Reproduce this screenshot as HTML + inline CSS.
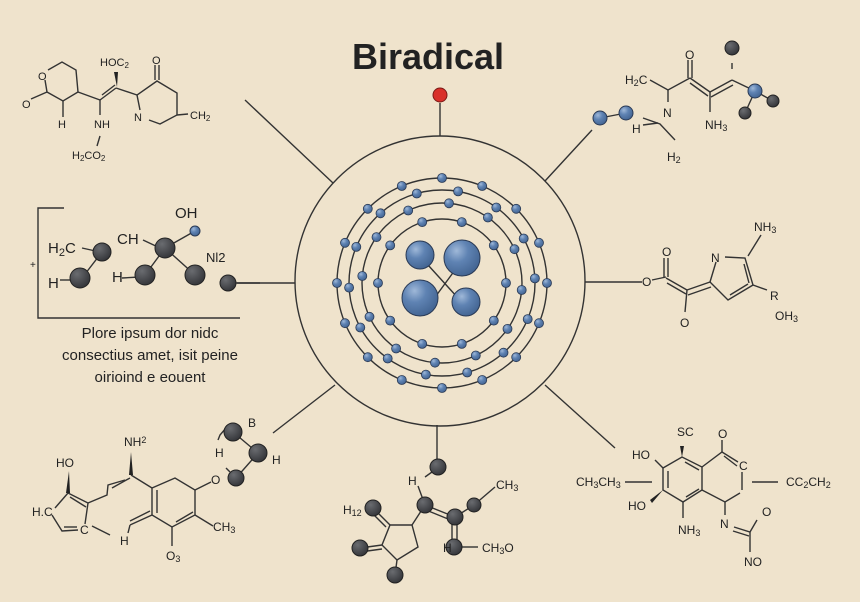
<!DOCTYPE html>
<html><head><meta charset="utf-8"><style>
html,body{margin:0;padding:0;background:#efe3cc;}
svg{display:block}
text{font-family:"Liberation Sans",sans-serif;fill:#222;}
</style></head><body>
<svg id="s" width="860" height="602" viewBox="0 0 860 602" xmlns="http://www.w3.org/2000/svg">
<defs>
<radialGradient id="bl" cx="0.35" cy="0.3" r="0.8"><stop offset="0" stop-color="#9fb8d8"/><stop offset="0.4" stop-color="#5f83b3"/><stop offset="1" stop-color="#3e5f8c"/></radialGradient>
<radialGradient id="dk" cx="0.35" cy="0.3" r="0.8"><stop offset="0" stop-color="#6a6c70"/><stop offset="1" stop-color="#2f3034"/></radialGradient>
</defs>
<rect width="860" height="602" fill="#efe3cc"/>
<text x="428" y="69" font-size="36" font-weight="bold" text-anchor="middle" fill="#111">Biradical</text>

<g stroke="#333" stroke-width="1.4" fill="none">
<!-- spokes -->
<line x1="440" y1="103" x2="440" y2="136"/>
<line x1="245" y1="100" x2="333" y2="183"/>
<line x1="592" y1="130" x2="545" y2="181"/>
<line x1="585" y1="282" x2="642" y2="282"/>
<line x1="237" y1="283" x2="295" y2="283"/>
<line x1="335" y1="385" x2="273" y2="433"/>
<line x1="437" y1="425" x2="437" y2="460"/>
<line x1="545" y1="385" x2="615" y2="448"/>
<circle cx="440" cy="281" r="145"/>
<!-- orbits -->
<circle cx="442" cy="283" r="105"/>
<circle cx="442" cy="283" r="93"/>
<circle cx="442" cy="283" r="80"/>
<circle cx="442" cy="283" r="64"/>
<line x1="428" y1="265" x2="458" y2="298"/>
<line x1="433" y1="300" x2="455" y2="270"/>
</g>
<circle cx="440" cy="95" r="7" fill="#d9302a" stroke="#7a1a16"/>
<g id="dots"></g>
<g stroke="#2a3a55" stroke-width="1">
<circle cx="420" cy="255" r="14" fill="url(#bl)"/>
<circle cx="462" cy="258" r="18" fill="url(#bl)"/>
<circle cx="420" cy="298" r="18" fill="url(#bl)"/>
<circle cx="466" cy="302" r="14" fill="url(#bl)"/>
</g>

<!-- top-left molecule -->
<g stroke="#333" stroke-width="1.4" fill="none">
<polyline points="48,70 62,62 76,70 78,92 63,101 47,92 45,80"/>
<line x1="47" y1="92" x2="31" y2="99"/>
<line x1="63" y1="101" x2="63" y2="117"/>
<line x1="78" y1="92" x2="100" y2="100"/>
<line x1="100" y1="100" x2="116" y2="88"/><line x1="102" y1="95" x2="115" y2="85"/>
<line x1="100" y1="100" x2="100" y2="115"/>
<line x1="100" y1="136" x2="97" y2="146"/>
<line x1="116" y1="88" x2="137" y2="95"/>
<polyline points="140,110 137,95 157,81 177,93 177,115 160,124 149,120"/>
<line x1="155" y1="80" x2="155" y2="65"/><line x1="159" y1="80" x2="159" y2="65"/>
<line x1="177" y1="115" x2="188" y2="114"/>
</g>
<polygon points="114,72 118,72 117,87" fill="#222"/>
<g font-size="11">
<text x="22" y="108">O</text><text x="38" y="80">O</text>
<text x="58" y="128">H</text><text x="94" y="128">NH</text>
<text x="72" y="159">H<tspan font-size="8" dy="2">2</tspan><tspan dy="-2">CO</tspan><tspan font-size="8" dy="2">2</tspan></text>
<text x="100" y="66">HOC<tspan font-size="8" dy="2">2</tspan></text>
<text x="152" y="64">O</text><text x="134" y="121">N</text>
<text x="190" y="119">CH<tspan font-size="8" dy="2">2</tspan></text>
</g>

<!-- left boxed molecule -->
<g stroke="#333" stroke-width="1.4" fill="none">
<polyline points="64,208 38,208 38,318 240,318"/>
<line x1="82" y1="248" x2="100" y2="252"/>
<line x1="102" y1="252" x2="82" y2="278"/>
<line x1="60" y1="280" x2="75" y2="280"/>
<line x1="143" y1="240" x2="160" y2="248"/>
<line x1="165" y1="248" x2="145" y2="275"/>
<line x1="122" y1="278" x2="140" y2="277"/>
<line x1="165" y1="248" x2="195" y2="231"/>
<line x1="165" y1="248" x2="195" y2="275"/>
<line x1="236" y1="283" x2="260" y2="283"/>
</g>
<g fill="url(#dk)" stroke="#222">
<circle cx="102" cy="252" r="9"/><circle cx="80" cy="278" r="10"/>
<circle cx="145" cy="275" r="10"/><circle cx="165" cy="248" r="10"/>
<circle cx="195" cy="275" r="10"/><circle cx="228" cy="283" r="8"/>
</g>
<circle cx="195" cy="231" r="5" fill="url(#bl)" stroke="#2a3a55"/>
<g font-size="15">
<text x="30" y="268" font-size="10">+</text>
<text x="48" y="253">H<tspan font-size="11" dy="3">2</tspan><tspan dy="-3">C</tspan></text>
<text x="48" y="288">H</text>
<text x="117" y="244">CH</text>
<text x="112" y="282">H</text>
<text x="175" y="218">OH</text>
<text x="206" y="262" font-size="13">Nl2</text>
</g>
<g font-size="15" text-anchor="middle">
<text x="150" y="338">Plore ipsum dor nidc</text>
<text x="150" y="360">consectius amet, isit peine</text>
<text x="150" y="382">oirioind e eouent</text>
</g>

<!-- top-right molecule -->
<g stroke="#333" stroke-width="1.4" fill="none">
<line x1="600" y1="118" x2="626" y2="113"/>
<polyline points="650,80 668,90 690,78"/>
<line x1="668" y1="90" x2="668" y2="102"/>
<line x1="688" y1="78" x2="688" y2="60"/><line x1="692" y1="78" x2="692" y2="60"/>
<polyline points="643,118 660,124 675,140"/>
<line x1="643" y1="125" x2="658" y2="123"/>
<line x1="690" y1="78" x2="710" y2="92"/><line x1="690" y1="83" x2="708" y2="96"/>
<line x1="710" y1="92" x2="732" y2="80"/><line x1="711" y1="97" x2="733" y2="85"/>
<line x1="710" y1="92" x2="710" y2="112"/>
<line x1="732" y1="80" x2="755" y2="91"/>
<line x1="732" y1="63" x2="732" y2="69"/>
<line x1="755" y1="91" x2="773" y2="101"/>
<line x1="755" y1="91" x2="745" y2="113"/>
</g>
<g stroke="#2a3a55"><circle cx="600" cy="118" r="7" fill="url(#bl)"/><circle cx="626" cy="113" r="7" fill="url(#bl)"/><circle cx="755" cy="91" r="7" fill="url(#bl)"/></g>
<g fill="url(#dk)" stroke="#222"><circle cx="732" cy="48" r="7"/><circle cx="773" cy="101" r="6"/><circle cx="745" cy="113" r="6"/></g>
<g font-size="12">
<text x="625" y="84">H<tspan font-size="9" dy="2">2</tspan><tspan dy="-2">C</tspan></text>
<text x="685" y="59">O</text><text x="663" y="117">N</text>
<text x="632" y="133">H</text>
<text x="667" y="161">H<tspan font-size="9" dy="2">2</tspan></text>
<text x="705" y="129">NH<tspan font-size="9" dy="2">3</tspan></text>
</g>

<!-- right molecule -->
<g stroke="#333" stroke-width="1.4" fill="none">
<line x1="652" y1="280" x2="666" y2="277"/>
<line x1="664" y1="277" x2="664" y2="258"/><line x1="668" y1="277" x2="668" y2="258"/>
<line x1="666" y1="278" x2="687" y2="290"/><line x1="667" y1="283" x2="686" y2="294"/>
<line x1="687" y1="290" x2="685" y2="312"/>
<line x1="687" y1="290" x2="710" y2="282"/><line x1="688" y1="295" x2="711" y2="287"/>
<polyline points="710,282 716,262"/>
<polyline points="725,257 745,258 753,285 728,300 710,282"/>
<line x1="744" y1="264" x2="749" y2="283"/><line x1="730" y1="295" x2="748" y2="284"/>
<line x1="748" y1="256" x2="761" y2="235"/>
<line x1="753" y1="285" x2="767" y2="290"/>
</g>
<g font-size="12">
<text x="642" y="286">O</text><text x="662" y="256">O</text><text x="680" y="327">O</text>
<text x="711" y="262">N</text>
<text x="754" y="231">NH<tspan font-size="9" dy="2">3</tspan></text>
<text x="770" y="300">R</text>
<text x="775" y="320">OH<tspan font-size="9" dy="2">3</tspan></text>
</g>

<!-- bottom-left molecule -->
<g stroke="#333" stroke-width="1.4" fill="none">
<polyline points="68,493 88,503 85,524"/>
<line x1="70" y1="497" x2="86" y2="507"/>
<polyline points="78,530 62,531 52,515"/><polyline points="55,508 68,493"/>
<line x1="64" y1="527" x2="77" y2="527"/>
<line x1="92" y1="526" x2="110" y2="535"/>
<polyline points="88,503 107,495 108,485 125,480"/>
<line x1="112" y1="488" x2="130" y2="478"/>
<line x1="131" y1="475" x2="152" y2="488"/>
<polygon points="152,488 175,478 195,490 195,515 172,527 152,515"/>
<line x1="157" y1="490" x2="157" y2="513"/><line x1="176" y1="522" x2="193" y2="512"/>
<line x1="152" y1="515" x2="130" y2="525"/><line x1="150" y1="511" x2="130" y2="521"/>
<line x1="130" y1="525" x2="128" y2="533"/>
<line x1="172" y1="527" x2="172" y2="546"/>
<line x1="195" y1="515" x2="213" y2="526"/>
<line x1="195" y1="490" x2="211" y2="482"/>
<polyline points="226,428 220,435 218,440"/>
<line x1="233" y1="432" x2="258" y2="453"/>
<line x1="258" y1="453" x2="236" y2="478"/>
<line x1="226" y1="468" x2="230" y2="472"/>
</g>
<polygon points="66,493 70,493 69,471" fill="#222"/>
<polygon points="129,475 133,475 131,452" fill="#222"/>
<g fill="url(#dk)" stroke="#222"><circle cx="233" cy="432" r="9"/><circle cx="258" cy="453" r="9"/><circle cx="236" cy="478" r="8"/></g>
<g font-size="12">
<text x="56" y="467">HO</text>
<text x="32" y="516">H.C</text><text x="80" y="534">C</text>
<text x="124" y="446">NH<tspan font-size="9" dy="-3">2</tspan></text>
<text x="120" y="545">H</text>
<text x="166" y="560">O<tspan font-size="9" dy="2">3</tspan></text>
<text x="213" y="531">CH<tspan font-size="9" dy="2">3</tspan></text>
<text x="211" y="484">O</text>
<text x="248" y="427">B</text>
<text x="215" y="457">H</text>
<text x="272" y="464">H</text>
</g>

<!-- bottom-center molecule -->
<g stroke="#333" stroke-width="1.4" fill="none">
<line x1="425" y1="477" x2="432" y2="472"/>
<line x1="418" y1="486" x2="425" y2="505"/>
<line x1="425" y1="505" x2="455" y2="517"/><line x1="426" y1="510" x2="453" y2="521"/>
<line x1="455" y1="517" x2="474" y2="505"/>
<line x1="474" y1="505" x2="495" y2="487"/>
<line x1="452" y1="517" x2="452" y2="545"/><line x1="457" y1="517" x2="457" y2="545"/>
<line x1="462" y1="547" x2="478" y2="547"/>
<polygon points="390,525 412,525 418,547 397,560 382,545"/>
<line x1="412" y1="525" x2="425" y2="505"/>
<line x1="390" y1="525" x2="373" y2="508"/><line x1="386" y1="527" x2="370" y2="511"/>
<line x1="382" y1="545" x2="360" y2="548"/><line x1="382" y1="549" x2="360" y2="552"/>
<line x1="397" y1="560" x2="395" y2="575"/>
</g>
<g fill="url(#dk)" stroke="#222">
<circle cx="438" cy="467" r="8"/><circle cx="425" cy="505" r="8"/><circle cx="455" cy="517" r="8"/>
<circle cx="474" cy="505" r="7"/><circle cx="454" cy="547" r="8"/>
<circle cx="373" cy="508" r="8"/><circle cx="360" cy="548" r="8"/><circle cx="395" cy="575" r="8"/>
</g>
<g font-size="12">
<text x="408" y="485">H</text>
<text x="496" y="489">CH<tspan font-size="9" dy="2">3</tspan></text>
<text x="443" y="552">H</text>
<text x="482" y="552">CH<tspan font-size="9" dy="2">3</tspan><tspan dy="-2">O</tspan></text>
<text x="343" y="514">H<tspan font-size="9" dy="2">12</tspan></text>
</g>

<!-- bottom-right molecule -->
<g stroke="#333" stroke-width="1.4" fill="none">
<polygon points="663,468 682,457 702,467 702,490 683,502 663,490"/>
<line x1="668" y1="471" x2="668" y2="488"/><line x1="685" y1="462" x2="699" y2="470"/><line x1="686" y1="497" x2="699" y2="489"/>
<polyline points="702,467 722,452 738,462"/><line x1="724" y1="456" x2="737" y2="466"/>
<line x1="722" y1="452" x2="722" y2="440"/>
<line x1="742" y1="472" x2="742" y2="490"/>
<polyline points="702,490 725,502 740,493"/>
<line x1="655" y1="460" x2="663" y2="468"/>
<line x1="625" y1="482" x2="652" y2="482"/>
<line x1="752" y1="482" x2="778" y2="482"/>
<line x1="683" y1="502" x2="683" y2="518"/>
<line x1="725" y1="502" x2="725" y2="515"/>
<polyline points="734,527 750,532 757,520"/><line x1="733" y1="531" x2="749" y2="536"/>
<line x1="750" y1="532" x2="750" y2="552"/>
</g>
<polygon points="680,446 684,446 682,457" fill="#222"/>
<polygon points="663,490 650,500 652,503" fill="#222"/>
<g font-size="12">
<text x="677" y="436">SC</text>
<text x="718" y="438">O</text>
<text x="739" y="470">C</text>
<text x="632" y="459">HO</text>
<text x="628" y="510">HO</text>
<text x="576" y="486">CH<tspan font-size="9" dy="2">3</tspan><tspan dy="-2">CH</tspan><tspan font-size="9" dy="2">3</tspan></text>
<text x="786" y="486">CC<tspan font-size="9" dy="2">2</tspan><tspan dy="-2">CH</tspan><tspan font-size="9" dy="2">2</tspan></text>
<text x="678" y="534">NH<tspan font-size="9" dy="2">3</tspan></text>
<text x="720" y="528">N</text>
<text x="762" y="516">O</text>
<text x="744" y="566">NO</text>
</g>
</svg>
<script>
(function(){
var g=document.getElementById('dots'),ns='http://www.w3.org/2000/svg';
var rings=[[105,16,0],[93,14,10],[80,12,5],[64,10,18]];
rings.forEach(function(r){
 for(var i=0;i<r[1];i++){
  var a=(r[2]+i*360/r[1])*Math.PI/180;
  var c=document.createElementNS(ns,'circle');
  c.setAttribute('cx',(442+r[0]*Math.sin(a)).toFixed(1));
  c.setAttribute('cy',(283-r[0]*Math.cos(a)).toFixed(1));
  c.setAttribute('r','4.5');c.setAttribute('fill','url(#bl)');
  c.setAttribute('stroke','#2a3a55');c.setAttribute('stroke-width','0.8');
  g.appendChild(c);
 }
});
})();
</script>
</body></html>
